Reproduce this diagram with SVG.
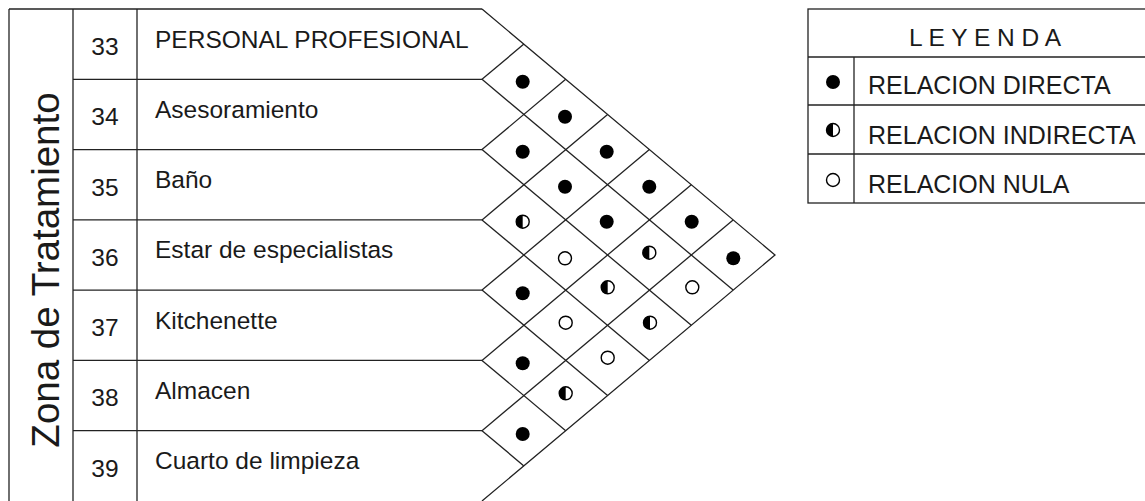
<svg xmlns="http://www.w3.org/2000/svg" width="1145" height="501" viewBox="0 0 1145 501">
<style>
.ln{stroke:#222;stroke-width:1.3;fill:none}
.t{font-family:"Liberation Sans",Arial,sans-serif;font-size:24.5px;fill:#1a1a1a}
.lg{font-family:"Liberation Sans",Arial,sans-serif;font-size:25px;fill:#1a1a1a}
.n{font-family:"Liberation Sans",Arial,sans-serif;font-size:24.5px;fill:#1a1a1a;text-anchor:middle}
.z{font-family:"Liberation Sans",Arial,sans-serif;font-size:38.5px;fill:#1a1a1a;text-anchor:middle}
.f{fill:#000}
.o{fill:#fff;stroke:#000;stroke-width:1.4}
</style>
<defs>
<g id="full"><circle r="7" class="f"/></g>
<g id="half"><circle r="6.5" class="o"/><path d="M0,-6.5 A6.5,6.5 0 0 0 0,6.5 Z" class="f"/></g>
<g id="null"><circle r="6.5" class="o"/></g>
</defs>
<rect width="1145" height="501" fill="#fff"/>

<g id="zone">
<line class="ln" x1="9" y1="9" x2="9" y2="501"/>
<line class="ln" x1="73" y1="9" x2="73" y2="501"/>
<line class="ln" x1="137" y1="9" x2="137" y2="501"/>
<line class="ln" x1="9" y1="9" x2="482" y2="9"/>
<text class="z" transform="translate(59,270) rotate(-90)">Zona de Tratamiento</text>
</g>

<g id="row-33"><text class="n" x="105" y="55">33</text><text class="t" x="155" y="47.5">PERSONAL PROFESIONAL</text></g>
<g id="row-34"><line class="ln" x1="73" y1="79.3" x2="482" y2="79.3"/><text class="n" x="105" y="125.3">34</text><text class="t" x="155" y="117.8">Asesoramiento</text></g>
<g id="row-35"><line class="ln" x1="73" y1="149.6" x2="482" y2="149.6"/><text class="n" x="105" y="195.6">35</text><text class="t" x="155" y="188.1">Baño</text></g>
<g id="row-36"><line class="ln" x1="73" y1="219.9" x2="482" y2="219.9"/><text class="n" x="105" y="265.9">36</text><text class="t" x="155" y="258.4">Estar de especialistas</text></g>
<g id="row-37"><line class="ln" x1="73" y1="290.1" x2="482" y2="290.1"/><text class="n" x="105" y="336.1">37</text><text class="t" x="155" y="328.6">Kitchenette</text></g>
<g id="row-38"><line class="ln" x1="73" y1="360.4" x2="482" y2="360.4"/><text class="n" x="105" y="406.4">38</text><text class="t" x="155" y="398.9">Almacen</text></g>
<g id="row-39"><line class="ln" x1="73" y1="430.7" x2="482" y2="430.7"/><text class="n" x="105" y="476.7">39</text><text class="t" x="155" y="469.2">Cuarto de limpieza</text></g>

<g id="connectors">
<polyline class="ln" points="482,9 775,255 482,501"/>
<line class="ln" x1="482" y1="79.3" x2="733.1" y2="290.1"/>
<line class="ln" x1="482" y1="149.6" x2="691.3" y2="325.3"/>
<line class="ln" x1="482" y1="219.9" x2="649.4" y2="360.4"/>
<line class="ln" x1="482" y1="290.1" x2="607.6" y2="395.6"/>
<line class="ln" x1="482" y1="360.4" x2="565.7" y2="430.7"/>
<line class="ln" x1="482" y1="430.7" x2="523.9" y2="465.9"/>
<line class="ln" x1="482" y1="79.3" x2="523.9" y2="44.1"/>
<line class="ln" x1="482" y1="149.6" x2="565.7" y2="79.3"/>
<line class="ln" x1="482" y1="219.9" x2="607.6" y2="114.4"/>
<line class="ln" x1="482" y1="290.1" x2="649.4" y2="149.6"/>
<line class="ln" x1="482" y1="360.4" x2="691.3" y2="184.7"/>
<line class="ln" x1="482" y1="430.7" x2="733.1" y2="219.9"/>
</g>

<g id="relations">
<use href="#full" x="522.7" y="81.7"/>
<use href="#full" x="565" y="116.7"/>
<use href="#full" x="522.7" y="151.7"/>
<use href="#full" x="606.7" y="151.7"/>
<use href="#full" x="565" y="186.7"/>
<use href="#full" x="649.3" y="186.7"/>
<use href="#half" x="522.7" y="221.7"/>
<use href="#full" x="606.7" y="221.7"/>
<use href="#full" x="691.7" y="221.7"/>
<use href="#null" x="565" y="258.3"/>
<use href="#half" x="649.3" y="252.7"/>
<use href="#full" x="733.3" y="258.3"/>
<use href="#full" x="522.7" y="293.3"/>
<use href="#half" x="607.7" y="287.3"/>
<use href="#null" x="692.3" y="287.3"/>
<use href="#null" x="565.7" y="322.7"/>
<use href="#half" x="650" y="322.7"/>
<use href="#full" x="522.7" y="363.3"/>
<use href="#null" x="607.7" y="357.7"/>
<use href="#half" x="565.7" y="393.3"/>
<use href="#full" x="522.7" y="434"/>
</g>

<g id="legend">
<rect class="ln" x="808" y="9" width="345" height="194"/>
<line class="ln" x1="808" y1="57" x2="1145" y2="57"/>
<line class="ln" x1="808" y1="105" x2="1145" y2="105"/>
<line class="ln" x1="808" y1="154" x2="1145" y2="154"/>
<line class="ln" x1="854" y1="57" x2="854" y2="203"/>
<text class="t" x="909" y="45.5">L E Y E N D A</text>
<use href="#full" x="833" y="82"/>
<text class="lg" x="868" y="93.5">RELACION DIRECTA</text>
<use href="#half" x="833" y="130"/>
<text class="lg" x="868" y="143.5">RELACION INDIRECTA</text>
<use href="#null" x="833" y="180"/>
<text class="lg" x="868" y="193">RELACION NULA</text>
</g>
</svg>
